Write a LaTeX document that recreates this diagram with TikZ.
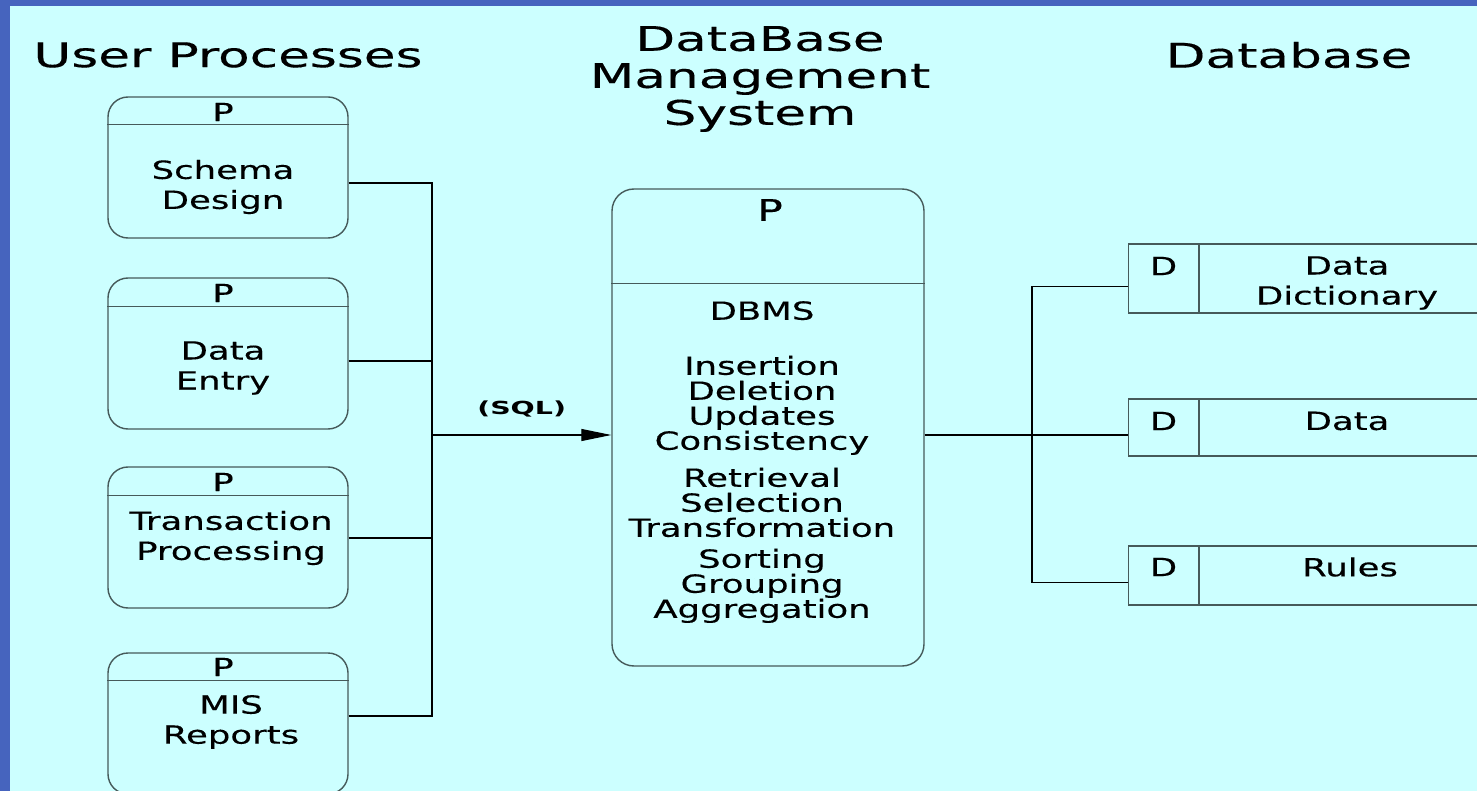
\documentclass[tikz,border=0pt]{standalone}
\usepackage{fontspec}
\setmainfont{DejaVu Sans}
\newfontfamily\titlefont[FakeStretch=1.52,FakeBold=0.3]{DejaVu Sans}
\newfontfamily\bodyfont[FakeStretch=1.42,FakeBold=0.3]{DejaVu Sans}
\newfontfamily\sqlfont[FakeStretch=1.58]{DejaVu Sans Bold}
\usepackage{tikz}
\usetikzlibrary{arrows.meta}

\definecolor{slideblue}{RGB}{70,100,190}
\definecolor{slidecyan}{RGB}{204,255,255}
\definecolor{boxline}{RGB}{70,90,90}

\tikzset{
  procbox/.style={draw=boxline,line width=1.4pt,rounded corners=20pt,minimum width=240pt,inner sep=0pt},
  storebox/.style={draw=boxline,line width=1.4pt,minimum width=420pt,anchor=west,inner sep=0pt},
  divider/.style={draw=boxline,line width=1.4pt},
  flow/.style={draw=black,line width=1.1pt},
  titletext/.style={font=\titlefont\fontsize{34}{37}\selectfont,inner sep=0pt},
  bodytext/.style={font=\bodyfont\fontsize{25}{30}\selectfont,align=center,inner sep=0pt},
  tagtext/.style={font=\bodyfont\fontsize{25}{30}\selectfont,inner sep=0pt}
}

\begin{document}
\begin{tikzpicture}[x=1pt,y=-1pt]
\clip (0,0) rectangle (1477,791);
\fill[slideblue] (0,0) rectangle (1477,791);
\fill[slidecyan] (10,6) rectangle (1477,791);

% column headings
\node[titletext] (ttlusr) at (228,55) {User Processes};
\node[titletext,align=center] (ttldbms) at (760,79) {DataBase\\Management\\System};
\node[titletext] (ttldb) at (1289,55) {Database};

% user processes
\node[procbox,minimum height=141pt] (schema) at (228,167.5) {};
\node[procbox,minimum height=151pt] (entry) at (228,353.5) {};
\node[procbox,minimum height=141pt] (trans) at (228,537.5) {};
\node[procbox,minimum height=141pt] (mis) at (228,723.5) {};
\draw[divider] ([yshift=-28pt]schema.north west) -- ([yshift=-28pt]schema.north east);
\draw[divider] ([yshift=-29pt]entry.north west) -- ([yshift=-29pt]entry.north east);
\draw[divider] ([yshift=-29pt]trans.north west) -- ([yshift=-29pt]trans.north east);
\draw[divider] ([yshift=-28pt]mis.north west) -- ([yshift=-28pt]mis.north east);

\node[tagtext] at (223,112) {P};
\node[tagtext] at (223,293) {P};
\node[tagtext] at (223,482) {P};
\node[tagtext] at (223,667) {P};
\node[bodytext] at (223,187) {Schema\\Design};
\node[bodytext] at (223,368) {Data\\Entry};
\node[bodytext] at (231,538) {Transaction\\Processing};
\node[bodytext] at (231,722) {MIS\\Reports};

% DBMS process
\node[procbox,rounded corners=22pt,minimum width=312pt,minimum height=477pt] (dbms) at (768,427.5) {};
\draw[divider] ([yshift=-95pt]dbms.north west) -- ([yshift=-95pt]dbms.north east);
\node[font=\bodyfont\fontsize{30}{34}\selectfont,inner sep=0pt] at (770,210) {P};
\node[bodytext,font=\bodyfont\fontsize{25}{25}\selectfont,anchor=north] (ops) at (762,301)
  {DBMS\\[30pt]Insertion\\Deletion\\Updates\\Consistency\\[12pt]Retrieval\\Selection\\Transformation\\[6pt]Sorting\\Grouping\\Aggregation};

% data stores
\node[storebox,minimum height=69pt] (dict) at (1128,278.5) {};
\node[storebox,minimum height=57pt] (data) at (1128,427.5) {};
\node[storebox,minimum height=59pt] (rules) at (1128,575.5) {};
\draw[divider] ([xshift=71pt]dict.north west) -- ([xshift=71pt]dict.south west);
\draw[divider] ([xshift=71pt]data.north west) -- ([xshift=71pt]data.south west);
\draw[divider] ([xshift=71pt]rules.north west) -- ([xshift=71pt]rules.south west);
\node[tagtext] at (1163.5,266) {D};
\node[tagtext] at (1163.5,421) {D};
\node[tagtext] at (1163.5,567) {D};
\node[bodytext] at (1347,283) {Data\\Dictionary};
\node[bodytext] at (1347,421) {Data};
\node[bodytext] at (1350,567) {Rules};

% flows
\coordinate (bus) at (432,435);
\coordinate (hub) at (1032,435);
\draw[flow] (schema.east |- 0,183) -| (bus);
\draw[flow] (entry.east |- 0,361) -| (bus);
\draw[flow] (trans.east |- 0,538) -| (bus);
\draw[flow] (mis.east |- 0,716) -| (bus);
\draw[flow,-{Triangle[length=30pt,width=12pt]}] (bus) -- (bus -| dbms.west)
  node[midway,above=14pt,font=\sqlfont\fontsize{18}{20}\selectfont] {(SQL)};
\draw[flow,line width=1.6pt] (hub -| dbms.east) -- (hub);
\draw[flow] (hub) |- ([yshift=-8pt]dict.west);
\draw[flow] (hub) -- (hub -| data.west);
\draw[flow] (hub) |- ([yshift=-7pt]rules.west);
\end{tikzpicture}
\end{document}
